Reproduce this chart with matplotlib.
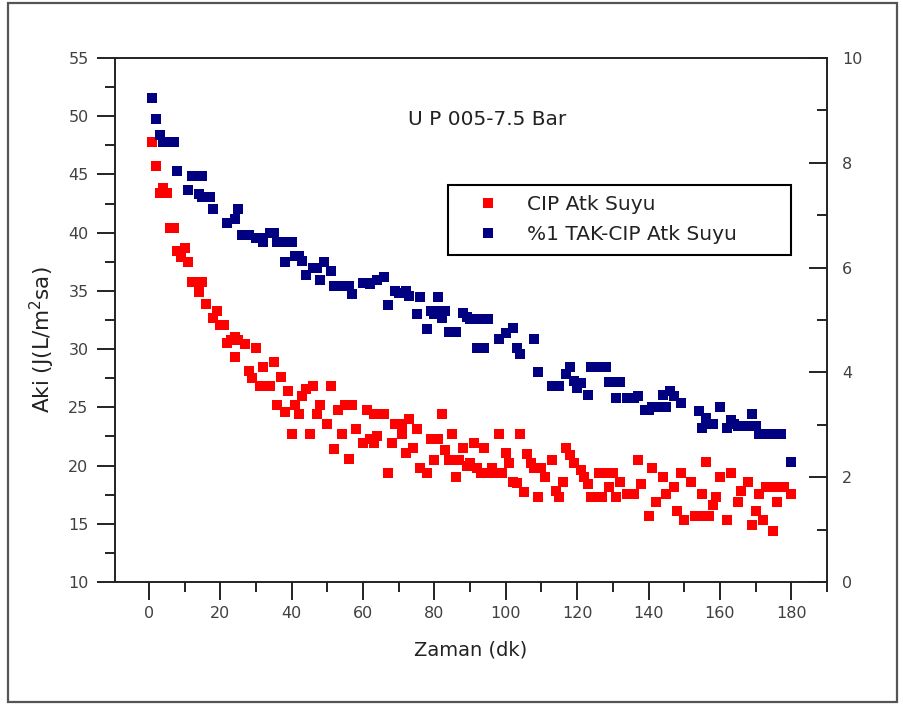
import matplotlib
matplotlib.use("Agg")
import matplotlib.pyplot as plt
from matplotlib.ticker import MultipleLocator
from matplotlib.patches import Rectangle

# CIP Atk Suyu: time (min) and flux (L/m2 h)
cip_t = [1, 2, 3, 4, 5, 6, 7, 8, 9, 10, 11, 12, 13, 14, 14, 15, 16, 18, 19, 20,
         21, 22, 23, 24, 24, 25, 27, 28, 29, 30, 31, 32, 33, 34, 35, 36, 37, 38, 39, 40,
         41, 42, 43, 44, 45, 46, 47, 48, 50, 51, 52, 53, 54, 55, 56, 56, 57, 58, 60, 61,
         62, 63, 63, 64, 65, 66, 67, 68, 69, 70, 71, 71, 72, 73, 74, 75, 76, 78, 79, 80,
         80, 81, 82, 83, 84, 85, 86, 87, 88, 89, 90, 91, 92, 93, 94, 94, 95, 96, 97, 98,
         98, 99, 100, 101, 102, 103, 104, 105, 106, 107, 108, 109, 110, 111, 113, 114, 115, 116, 117, 118,
         119, 121, 122, 123, 124, 125, 126, 127, 126, 127, 128, 129, 130, 129, 131, 132, 134, 135, 136, 137,
         138, 140, 141, 142, 144, 145, 147, 148, 149, 150, 152, 153, 154, 155, 155, 156, 157, 158, 159, 160,
         162, 163, 165, 166, 168, 169, 170, 171, 172, 173, 174, 175, 175, 176, 176, 177, 178, 180]
cip_flux = [47.8, 45.7, 43.4, 43.8, 43.4, 40.4, 40.4, 38.4, 37.9, 38.7, 37.5, 35.8, 35.8, 35.8, 34.9, 35.8, 33.9, 32.7, 33.3, 32.1,
            32.1, 30.5, 30.8, 31.0, 29.3, 30.8, 30.4, 28.1, 27.5, 30.1, 26.8, 28.5, 26.8, 26.8, 28.9, 25.2, 27.6, 24.6, 26.4, 22.7,
            25.2, 24.4, 26.0, 26.6, 22.7, 26.8, 24.4, 25.2, 23.6, 26.8, 21.4, 24.8, 22.7, 25.2, 20.6, 25.2, 25.2, 23.1, 21.9, 24.8,
            22.3, 21.9, 24.4, 22.5, 24.4, 24.4, 19.4, 21.9, 23.6, 23.6, 22.7, 23.6, 21.1, 24.0, 21.5, 23.1, 19.8, 19.4, 22.3, 20.5,
            22.3, 22.3, 24.4, 21.3, 20.5, 22.7, 19.0, 20.5, 21.5, 20.0, 20.2, 21.9, 19.8, 19.4, 21.5, 19.4, 19.4, 19.8, 19.4, 22.7,
            19.4, 19.4, 21.1, 20.2, 18.6, 18.5, 22.7, 17.7, 21.0, 20.2, 19.8, 17.3, 19.8, 19.0, 20.5, 17.8, 17.3, 18.6, 21.5, 20.9,
            20.2, 19.6, 19.0, 18.4, 17.3, 17.3, 17.3, 17.3, 19.4, 19.4, 19.4, 19.4, 19.4, 18.2, 17.3, 18.6, 17.6, 17.6, 17.6, 20.5,
            18.4, 15.7, 19.8, 16.9, 19.0, 17.6, 18.2, 16.1, 19.4, 15.3, 18.6, 15.7, 15.7, 17.6, 15.7, 20.3, 15.7, 16.6, 17.3, 19.0,
            15.3, 19.4, 16.9, 17.8, 18.6, 14.9, 16.1, 17.6, 15.3, 18.2, 18.2, 14.4, 18.2, 16.9, 18.2, 18.2, 18.2, 17.6]

# %1 TAK-CIP Atk Suyu: time (min) and flux (L/m2 h)
tak_t = [1, 2, 3, 4, 5, 6, 7, 8, 11, 12, 13, 14, 15, 14, 15, 16, 17, 18, 22, 24,
         25, 26, 27, 28, 30, 31, 32, 34, 35, 36, 37, 38, 39, 40, 38, 41, 42, 43, 44, 46,
         47, 48, 49, 51, 52, 53, 54, 55, 56, 57, 60, 61, 62, 64, 66, 67, 69, 70, 71, 72,
         73, 75, 76, 78, 79, 80, 81, 81, 82, 83, 84, 85, 86, 88, 89, 90, 91, 92, 93, 94,
         95, 92, 93, 94, 98, 100, 102, 103, 104, 108, 109, 113, 114, 115, 117, 118, 119, 120, 121, 123,
         124, 125, 126, 127, 128, 129, 130, 131, 132, 131, 134, 135, 136, 137, 139, 140, 141, 142, 143, 144,
         145, 146, 147, 149, 154, 155, 156, 157, 158, 160, 162, 163, 164, 165, 167, 168, 169, 170, 171, 172,
         173, 174, 175, 176, 177, 180]
tak_flux = [51.6, 49.8, 48.4, 47.8, 47.8, 47.8, 47.8, 45.3, 43.7, 44.9, 44.9, 44.9, 44.9, 43.3, 43.1, 43.1, 43.1, 42.0, 40.8, 41.2,
            42.0, 39.8, 39.8, 39.8, 39.5, 39.5, 39.2, 40.0, 40.0, 39.2, 39.2, 39.2, 39.2, 39.2, 37.5, 38.0, 38.0, 37.6, 36.4, 37.0,
            37.0, 35.9, 37.5, 36.7, 35.4, 35.4, 35.4, 35.4, 35.4, 34.7, 35.7, 35.7, 35.6, 35.9, 36.2, 33.8, 35.0, 34.8, 34.8, 35.0,
            34.6, 33.0, 34.5, 31.7, 33.3, 33.0, 34.5, 33.3, 32.7, 33.3, 31.5, 31.5, 31.5, 33.1, 32.8, 32.6, 32.6, 32.6, 32.6, 32.6,
            32.6, 30.1, 30.1, 30.1, 30.9, 31.4, 31.8, 30.1, 29.6, 30.9, 28.0, 26.8, 26.8, 26.8, 27.9, 28.5, 27.3, 26.7, 27.1, 26.1,
            28.5, 28.5, 28.5, 28.5, 28.5, 27.2, 27.2, 27.2, 27.2, 25.8, 25.8, 25.8, 25.8, 26.0, 24.8, 24.8, 25.0, 25.0, 25.0, 26.1,
            25.0, 26.4, 26.0, 25.4, 24.7, 23.2, 24.1, 23.6, 23.6, 25.0, 23.2, 23.9, 23.6, 23.4, 23.4, 23.4, 24.4, 23.4, 22.7, 22.7,
            22.7, 22.7, 22.7, 22.7, 22.7, 20.3]

series_labels = ["CIP Atk Suyu", "%1 TAK-CIP Atk Suyu"]
series_colors = ["#ff0000", "#000080"]
title_text = "U P 005-7.5 Bar"
x_label = "Zaman (dk)"
y_label = "Aki (J(L/m$^2$sa)"

W, H = 904, 705
plt.rcParams["font.family"] = ["DejaVu Sans"]
tick_color = "#404040"
ink = "#222222"

fig = plt.figure(figsize=(W / 100, H / 100), dpi=100)
fig.patch.set_facecolor("white")

# outer frame around the whole graph page
fig.patches.append(Rectangle((8 / W, 3 / H), (897 - 8) / W, (702 - 3) / H,
                             transform=fig.transFigure, fill=False,
                             edgecolor="#555555", linewidth=1.6))

ax = fig.add_axes([115 / W, 1 - 582 / H, 712 / W, 524 / H])
ax.set_xlim(-9.5, 190)
ax.set_ylim(10, 55)

ms = 7.8
ax.plot(cip_t, cip_flux, "s", ms=ms, color=series_colors[0], mew=0,
        label=series_labels[0], zorder=3)
ax.plot(tak_t, tak_flux, "s", ms=ms, color=series_colors[1], mew=0,
        label=series_labels[1], zorder=4)

for sp in ax.spines.values():
    sp.set_linewidth(1.4)
    sp.set_color(ink)

ax.xaxis.set_major_locator(MultipleLocator(20))
ax.xaxis.set_minor_locator(MultipleLocator(10))
ax.yaxis.set_major_locator(MultipleLocator(5))
ax.yaxis.set_minor_locator(MultipleLocator(2.5))
ax.tick_params(which="both", direction="out", width=1.4, color=ink,
               labelcolor=tick_color, labelsize=11.5, top=False, right=False)
ax.tick_params(which="major", length=13)
ax.tick_params(which="minor", length=7)
ax.tick_params(axis="y", pad=6)
ax.tick_params(axis="x", pad=4.5)

ax2 = ax.twinx()
ax2.set_ylim(0, 10)
ax2.yaxis.set_major_locator(MultipleLocator(2))
ax2.yaxis.set_minor_locator(MultipleLocator(1))
ax2.tick_params(which="both", direction="in", width=1.4, color=ink,
                labelcolor=tick_color, labelsize=11.5, pad=11)
ax2.tick_params(which="major", length=13)
ax2.tick_params(which="minor", length=7)
for sp in ax2.spines.values():
    sp.set_visible(False)

ax.set_xlabel(x_label, fontsize=14, color=ink)
ax.xaxis.set_label_coords(0.5, -0.112)
ax.set_ylabel(y_label, fontsize=15.5, color=ink)
ax.yaxis.set_label_coords(-0.082, 0.462)

ax.text(0.522, 0.882, title_text, transform=ax.transAxes, fontsize=14.5,
        ha="center", va="center", color=ink)

leg = ax.legend(loc="center left", bbox_to_anchor=(0.468, 0.624, 0.4815, 0.134),
                mode="expand", borderaxespad=0, fancybox=False, framealpha=1,
                edgecolor="black", borderpad=0.5, handlelength=3.0,
                handletextpad=0.43, labelspacing=0.55, numpoints=1,
                markerscale=0.85, fontsize=14.5)
leg.get_frame().set_linewidth(1.5)
for txt in leg.get_texts():
    txt.set_color(ink)

fig.savefig("out.png", dpi=100)
